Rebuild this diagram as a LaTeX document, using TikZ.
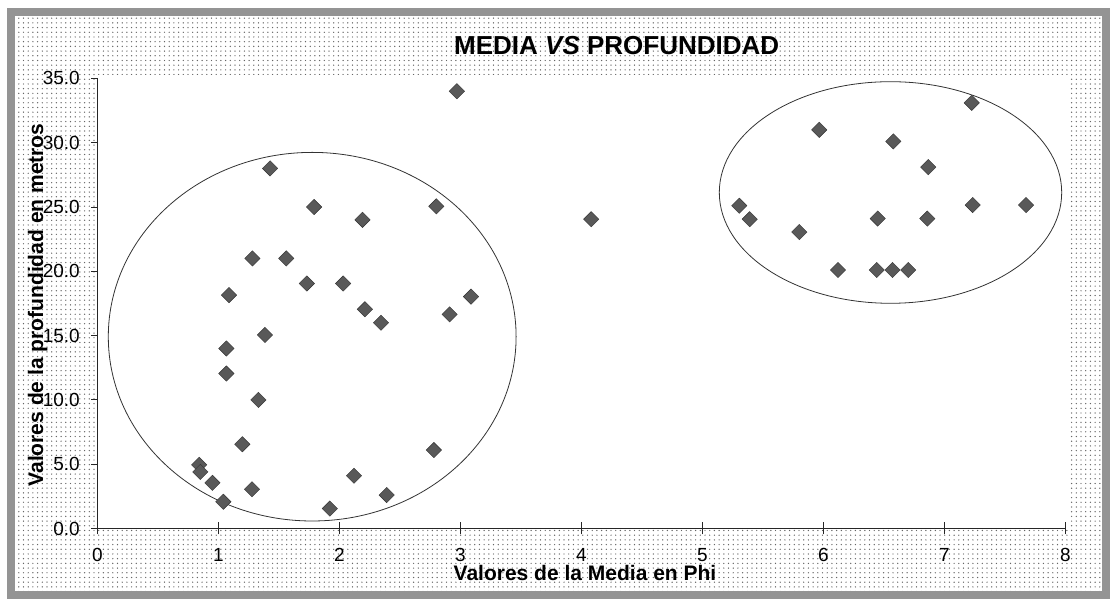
\documentclass[tikz,border=0pt]{standalone}
\usepackage{fontspec}
\setmainfont{Liberation Sans}
\usetikzlibrary{shapes.geometric,patterns}

\pgfdeclarepatternformonly{scandots}{\pgfqpoint{-1pt}{-1pt}}{\pgfqpoint{1pt}{1pt}}{\pgfqpoint{4.7pt}{4.7pt}}{%
  \pgfpathcircle{\pgfqpoint{0pt}{0pt}}{0.7pt}\pgfusepath{fill}}

\begin{document}
\begin{tikzpicture}[x=1pt, y=1pt]

    \tikzset{datapt/.style={%
      diamond,%
      fill=black!65,%
      draw=black!80,%
      line width=0.4pt,%
      inner sep=0pt,%
      minimum size=15.5pt}%
    };

    \tikzset{cluster/.style={ellipse, draw=black!80, line width=0.8pt, inner sep=0pt}};
    \tikzset{ticklabel/.style={font=\fontsize{19}{22}\selectfont, inner sep=0pt}};
    \tikzset{axislabel/.style={font=\bfseries\fontsize{21}{24}\selectfont, inner sep=0pt}};

    %%%%%%%%%%%%%%%
    %   frame     %
    %%%%%%%%%%%%%%%
    \useasboundingbox (0,0) rectangle (1113,601);
    \fill[white] (0,0) rectangle (1113,601);
    \path[pattern=scandots, pattern color=black!60] (11,6) rectangle (1106,589);
    \draw[black!42, line width=8pt] (11,6) rectangle (1106,589);
    \fill[white] (97.5,72.5) rectangle (1070,526);

    \node[font=\bfseries\fontsize{26}{30}\selectfont, anchor=base] (title) at (616.7,546.7) {MEDIA \textit{VS} PROFUNDIDAD};
    \node[axislabel, rotate=90, anchor=base] (ylab) at (43,296) {Valores de la profundidad en metros};
    \node[axislabel, anchor=base] (xlab) at (585,20.5) {Valores de la Media en Phi};

    \node[cluster, minimum width=407.8pt, minimum height=368.6pt] (left) at (312.2,264.3) {};
    \node[cluster, minimum width=342.4pt, minimum height=221.6pt] (right) at (890.5,408.5) {};

    %%%%%%%%%%%%%%%
    %    axes     %
    %%%%%%%%%%%%%%%
    \begin{scope}[shift={(97.5,72.5)}, x=121pt, y=12.86pt]
      \draw[black!85, line width=1pt] (0,35) -- (0,0) -- (8,0);
      \foreach \x in {0,...,8} {
        \draw[black!85, line width=0.9pt] (\x,0) ++(0,-6pt) -- ++(0,12pt);
        \node[ticklabel] (xl\x) at (\x,0) [yshift=-26.5pt] {\x};
      }
      \foreach \y in {0,5,...,35} {
        \draw[black!85, line width=0.9pt] (0,\y) -- ++(-7pt,0);
        \node[ticklabel, anchor=east] (yl\y) at (0,\y) [xshift=-17.5pt] {\y.0};
      }

      \foreach \px/\py [count=\i] in {0.84/4.95, 0.85/4.4, 0.95/3.55, 1.04/2.08, 1.065/14.0,
          1.065/12.05, 1.087/18.15, 1.197/6.55, 1.28/21.0, 1.277/3.05, 1.33/10.0,
          1.384/15.05, 1.426/28.0, 1.56/21.0, 1.73/19.05, 1.79/25.0, 1.92/1.55,
          2.03/19.05, 2.12/4.1, 2.19/24.0, 2.21/17.05, 2.343/16.0, 2.39/2.6,
          2.78/6.1, 2.80/25.05, 2.91/16.65, 2.97/34.0, 3.087/18.03, 4.08/24.05,
          5.304/25.1, 5.39/24.05, 5.80/23.05, 5.965/31.0, 6.12/20.1, 6.448/24.1,
          6.44/20.1, 6.577/30.1, 6.57/20.1, 6.70/20.1, 6.866/28.1, 6.858/24.1,
          7.225/33.1, 7.233/25.15, 7.674/25.15}
        \node[datapt] (p\i) at (\px,\py) {};
    \end{scope}

  \end{tikzpicture}
\end{document}
